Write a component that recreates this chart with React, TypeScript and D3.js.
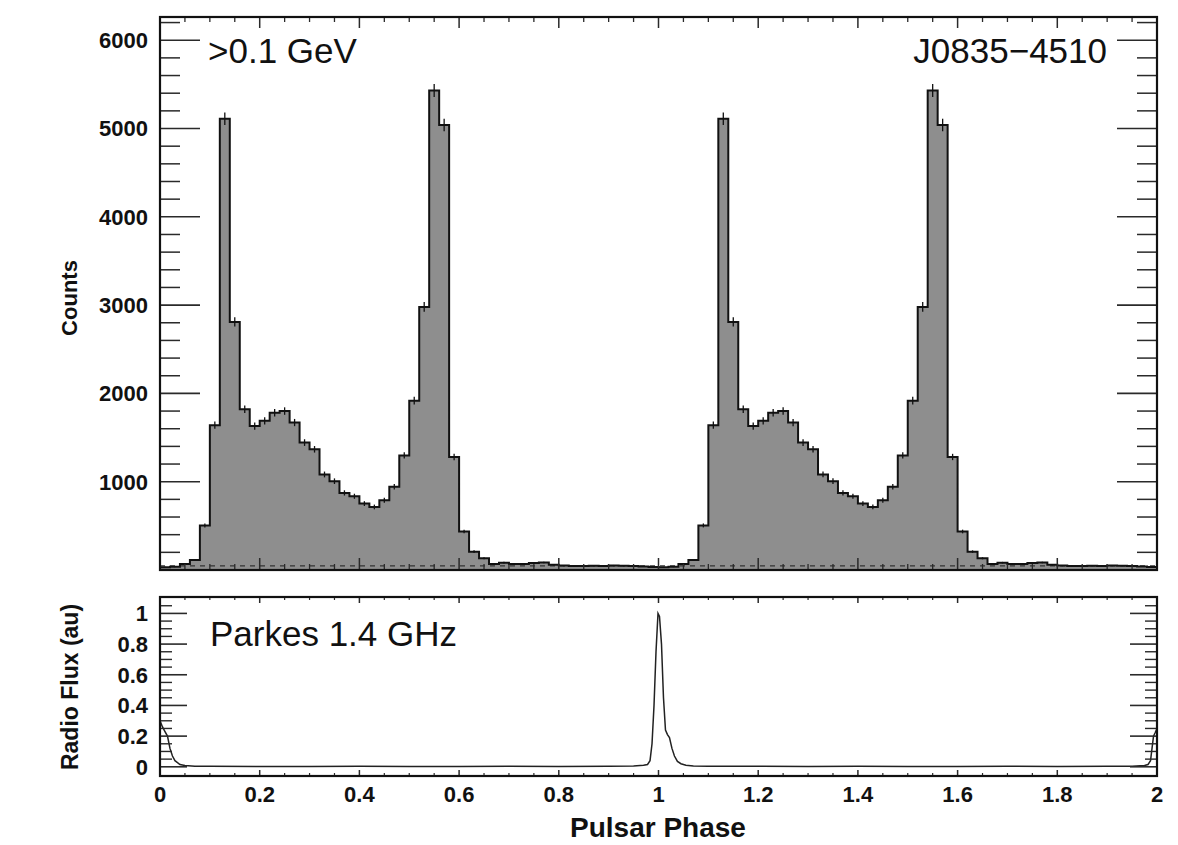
import React from "react";
import * as d3 from "d3";

// Gamma-ray light curve (>0.1 GeV), 50 bins per rotation (bin width 0.02)
const binWidth = 0.02;
const counts = [
  30, 38, 68, 114, 505, 1640, 5110, 2810, 1820, 1630,
  1690, 1780, 1800, 1670, 1443, 1367, 1082, 1006, 873, 835,
  752, 714, 789, 942, 1298, 1917, 2980, 5430, 5040, 1280,
  436, 208, 133, 68, 83, 68, 68, 78, 85, 60,
  50, 45, 45, 48, 45, 50, 48, 45, 40, 35,
];
const rotations = [0, 1];
const backgroundLevel = 47;

// Radio profile (Parkes 1.4 GHz)
const radioPhase = [
  0, 0.005, 0.01, 0.015, 0.02, 0.025, 0.03, 0.04, 0.05, 0.07,
  0.1, 0.2, 0.3, 0.4, 0.5, 0.6, 0.7, 0.8, 0.9, 0.95,
  0.97, 0.978, 0.983, 0.987, 0.991, 0.995, 0.999, 1.002, 1.006, 1.01,
  1.014, 1.018, 1.022, 1.027, 1.032, 1.038, 1.045, 1.055, 1.07, 1.1,
  1.2, 1.3, 1.4, 1.5, 1.6, 1.7, 1.8, 1.9, 1.95, 1.975,
  1.982, 1.987, 1.99, 1.993, 1.996, 2.0,
];
const radioFlux = [
  0.3, 0.26, 0.23, 0.2, 0.12, 0.07, 0.04, 0.015, 0.008, 0.004,
  0.003, 0.002, 0.002, 0.003, 0.002, 0.002, 0.003, 0.002, 0.003, 0.005,
  0.01, 0.015, 0.04, 0.15, 0.4, 0.75, 1.0, 0.98, 0.8, 0.45,
  0.24, 0.21, 0.19, 0.12, 0.07, 0.035, 0.02, 0.01, 0.006, 0.004,
  0.003, 0.002, 0.003, 0.002, 0.002, 0.003, 0.002, 0.003, 0.004, 0.008,
  0.015, 0.04, 0.12, 0.2, 0.22, 0.25,
];

const countTicks = [1000, 2000, 3000, 4000, 5000, 6000];
const fluxTicks = [0, 0.2, 0.4, 0.6, 0.8, 1];
const phaseTicks = [0, 0.2, 0.4, 0.6, 0.8, 1, 1.2, 1.4, 1.6, 1.8, 2];

const FONT = "'Liberation Sans', Arial, Helvetica, sans-serif";

export default function App() {
  const W = 1178, H = 845;
  const left = 160, right = 1157;
  const top1 = 17, bot1 = 570;
  const top2 = 597, bot2 = 776;

  const x = d3.scaleLinear().domain([0, 2]).range([left, right]);
  const y1 = d3.scaleLinear().domain([0, 6263]).range([bot1, top1]);
  const y2 = d3.scaleLinear().domain([-0.06, 1.107]).range([bot2, top2]);

  // histogram points
  const bins: { p: number; v: number }[] = [];
  rotations.forEach((r) => {
    counts.forEach((v, i) => bins.push({ p: r + i * binWidth, v }));
  });
  const stepPts = [...bins, { p: 2, v: bins[bins.length - 1].v }];

  const area = d3
    .area<{ p: number; v: number }>()
    .x((d) => x(d.p))
    .y0(y1(0))
    .y1((d) => y1(d.v))
    .curve(d3.curveStepAfter);
  const line = d3
    .line<{ p: number; v: number }>()
    .x((d) => x(d.p))
    .y((d) => y1(d.v))
    .curve(d3.curveStepAfter);

  const radioLine = d3
    .line<number>()
    .x((_, i) => x(radioPhase[i]))
    .y((d) => y2(d));

  const tickColor = "#2a2a2a";
  const minorPhase = d3.range(0, 2.0001, 0.05).filter((v) => Math.abs(v / 0.2 - Math.round(v / 0.2)) > 1e-6);
  const minorCounts = d3.range(200, 6263, 200).filter((v) => v % 1000 !== 0);
  const minorFlux = d3.range(0.05, 1.1, 0.05).filter((v) => Math.abs(v / 0.2 - Math.round(v / 0.2)) > 1e-6);

  const fmt = (v: number) => (Number.isInteger(v) ? String(v) : String(+v.toFixed(1)));

  return (
    <svg
      width={W}
      height={H}
      viewBox={`0 0 ${W} ${H}`}
      style={{ position: "absolute", left: 0, top: 0, background: "#fff" }}
      fontFamily={FONT}
    >
      {/* ===== top panel ===== */}
      <path d={area(stepPts) || ""} fill="#8e8e8e" stroke="none" />
      <line
        x1={left}
        x2={right}
        y1={y1(backgroundLevel)}
        y2={y1(backgroundLevel)}
        stroke="#333"
        strokeWidth={1.4}
        strokeDasharray="5,5"
      />
      <path d={line(stepPts) || ""} fill="none" stroke="#111" strokeWidth={2} />
      {bins.map((b, i) => (
        <line
          key={"eb" + i}
          x1={x(b.p + binWidth / 2)}
          x2={x(b.p + binWidth / 2)}
          y1={y1(b.v - Math.sqrt(b.v))}
          y2={y1(b.v + Math.sqrt(b.v))}
          stroke="#111"
          strokeWidth={1.3}
        />
      ))}

      {/* top panel y ticks */}
      {countTicks.map((t) => (
        <g key={"ct" + t}>
          <line x1={left} x2={left + 40} y1={y1(t)} y2={y1(t)} stroke={tickColor} strokeWidth={1.6} />
          <line x1={right} x2={right - 40} y1={y1(t)} y2={y1(t)} stroke={tickColor} strokeWidth={1.6} />
          <text x={148} y={y1(t)} dy="0.36em" textAnchor="end" fontSize={22} fontWeight="bold" fill="#111">
            {t}
          </text>
        </g>
      ))}
      {minorCounts.map((t) => (
        <g key={"cm" + t}>
          <line x1={left} x2={left + 20} y1={y1(t)} y2={y1(t)} stroke={tickColor} strokeWidth={1.5} />
          <line x1={right} x2={right - 20} y1={y1(t)} y2={y1(t)} stroke={tickColor} strokeWidth={1.5} />
        </g>
      ))}
      {/* top panel x ticks */}
      {phaseTicks.map((t) => (
        <g key={"pt1" + t}>
          <line x1={x(t)} x2={x(t)} y1={top1} y2={top1 + 11} stroke={tickColor} strokeWidth={1.5} />
          <line x1={x(t)} x2={x(t)} y1={bot1} y2={bot1 - 12} stroke={tickColor} strokeWidth={1.5} />
        </g>
      ))}
      {minorPhase.map((t, i) => (
        <g key={"pm1" + i}>
          <line x1={x(t)} x2={x(t)} y1={top1} y2={top1 + 5} stroke={tickColor} strokeWidth={1.3} />
          <line x1={x(t)} x2={x(t)} y1={bot1} y2={bot1 - 6} stroke={tickColor} strokeWidth={1.3} />
        </g>
      ))}
      <rect x={left} y={top1} width={right - left} height={bot1 - top1} fill="none" stroke="#111" strokeWidth={2.2} />

      <text x={208} y={63} fontSize={35} fill="#111">
        {">0.1 GeV"}
      </text>
      <text x={1107} y={63} fontSize={35} fill="#111" textAnchor="end">
        {"J0835\u22124510"}
      </text>
      <text
        transform={`translate(69,298) rotate(-90)`}
        textAnchor="middle"
        dy="0.36em"
        fontSize={22}
        fontWeight="bold"
        fill="#111"
      >
        Counts
      </text>

      {/* ===== bottom panel ===== */}
      <path d={radioLine(radioFlux) || ""} fill="none" stroke="#222" strokeWidth={1.5} />
      {fluxTicks.map((t) => (
        <g key={"ft" + t}>
          <line x1={left} x2={left + 27} y1={y2(t)} y2={y2(t)} stroke={tickColor} strokeWidth={1.6} />
          <line x1={right} x2={right - 27} y1={y2(t)} y2={y2(t)} stroke={tickColor} strokeWidth={1.6} />
          <text x={148} y={y2(t)} dy="0.36em" textAnchor="end" fontSize={22} fontWeight="bold" fill="#111">
            {fmt(t)}
          </text>
        </g>
      ))}
      {minorFlux.map((t, i) => (
        <g key={"fm" + i}>
          <line x1={left} x2={left + 12} y1={y2(t)} y2={y2(t)} stroke={tickColor} strokeWidth={1.4} />
          <line x1={right} x2={right - 12} y1={y2(t)} y2={y2(t)} stroke={tickColor} strokeWidth={1.4} />
        </g>
      ))}
      {phaseTicks.map((t) => (
        <g key={"pt2" + t}>
          <line x1={x(t)} x2={x(t)} y1={top2} y2={top2 + 6} stroke={tickColor} strokeWidth={1.5} />
          <line x1={x(t)} x2={x(t)} y1={bot2} y2={bot2 - 6} stroke={tickColor} strokeWidth={1.5} />
          <text x={x(t)} y={802} textAnchor="middle" fontSize={22} fontWeight="bold" fill="#111">
            {fmt(t)}
          </text>
        </g>
      ))}
      {minorPhase.map((t, i) => (
        <g key={"pm2" + i}>
          <line x1={x(t)} x2={x(t)} y1={top2} y2={top2 + 3} stroke={tickColor} strokeWidth={1.2} />
          <line x1={x(t)} x2={x(t)} y1={bot2} y2={bot2 - 3} stroke={tickColor} strokeWidth={1.2} />
        </g>
      ))}
      <rect x={left} y={top2} width={right - left} height={bot2 - top2} fill="none" stroke="#111" strokeWidth={2.2} />

      <text x={210} y={646} fontSize={35} fill="#111">
        Parkes 1.4 GHz
      </text>
      <text
        transform={`translate(70,687) rotate(-90)`}
        textAnchor="middle"
        dy="0.36em"
        fontSize={23}
        fontWeight="bold"
        fill="#111"
      >
        Radio Flux (au)
      </text>
      <text x={658} y={837} textAnchor="middle" fontSize={28} fontWeight="bold" fill="#111">
        Pulsar Phase
      </text>
    </svg>
  );
}
